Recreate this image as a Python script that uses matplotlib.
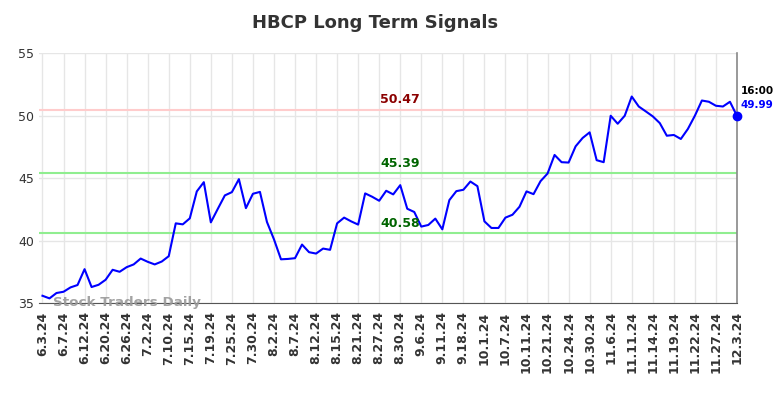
import matplotlib
matplotlib.use("Agg")
import matplotlib.pyplot as plt

prices = [35.58, 35.37, 35.8, 35.9, 36.25, 36.44, 37.71, 36.28, 36.46, 36.86,
          37.66, 37.5, 37.87, 38.09, 38.56, 38.3, 38.09, 38.32, 38.75, 41.38,
          41.3, 41.78, 43.94, 44.68, 41.46, 42.55, 43.62, 43.88, 44.92, 42.6,
          43.75, 43.9, 41.49, 40.1, 38.5, 38.53, 38.59, 39.68, 39.07, 38.96,
          39.36, 39.26, 41.38, 41.84, 41.54, 41.28, 43.78, 43.51, 43.19, 43.99,
          43.7, 44.44, 42.55, 42.29, 41.12, 41.25, 41.76, 40.9, 43.24, 43.96,
          44.07, 44.73, 44.36, 41.54, 41.01, 41.01, 41.84, 42.07, 42.71, 43.94,
          43.72, 44.76, 45.37, 46.86, 46.28, 46.25, 47.55, 48.22, 48.67, 46.44,
          46.28, 50.0, 49.36, 50.0, 51.54, 50.74, 50.35, 49.95, 49.41, 48.4,
          48.46, 48.14, 48.94, 50.0, 51.22, 51.12, 50.8, 50.74, 51.12, 49.99]

tick_labels = ["6.3.24", "6.7.24", "6.12.24", "6.20.24", "6.26.24", "7.2.24",
               "7.10.24", "7.15.24", "7.19.24", "7.25.24", "7.30.24", "8.2.24",
               "8.7.24", "8.12.24", "8.15.24", "8.21.24", "8.27.24", "8.30.24",
               "9.6.24", "9.11.24", "9.18.24", "10.1.24", "10.7.24", "10.11.24",
               "10.21.24", "10.24.24", "10.30.24", "11.6.24", "11.11.24",
               "11.14.24", "11.19.24", "11.22.24", "11.27.24", "12.3.24"]

resistance = 50.47
supports = [45.39, 40.58]
last_time = "16:00"

fig = plt.figure(figsize=(7.84, 3.98), dpi=100)
ax = fig.add_axes([0.0497, 0.2387, 0.8903, 0.6273])

x = list(range(len(prices)))
ax.plot(x, prices, color="blue", lw=1.5, zorder=3)
ax.plot(x[-1], prices[-1], "o", color="blue", ms=6, zorder=4, clip_on=False)

ax.axhline(resistance, color="#ffcccc", lw=1.5, zorder=2)
for s in supports:
    ax.axhline(s, color="#90ee90", lw=1.5, zorder=2)

ax.text(51, resistance + 0.3, "%.2f" % resistance, color="#8b0000",
        fontsize=9, fontweight="bold", ha="center", va="bottom")
for s in supports:
    ax.text(51, s + 0.3, "%.2f" % s, color="#006400",
            fontsize=9, fontweight="bold", ha="center", va="bottom")

ax.text(x[-1] + 0.5, prices[-1] + 1.6, last_time, fontsize=7.5,
        fontweight="bold", color="black", ha="left", va="bottom")
ax.text(x[-1] + 0.5, prices[-1] + 0.5, "%.2f" % prices[-1], fontsize=7.5,
        fontweight="bold", color="blue", ha="left", va="bottom")

ax.text(1.5, 35.0, "Stock Traders Daily", fontsize=9.7, fontweight="bold",
        color="#999999", alpha=0.9, ha="left", va="center", zorder=5)

ax.set_xlim(-0.5, x[-1])
ax.set_ylim(35, 55)
ax.set_yticks([35, 40, 45, 50, 55])
ax.set_xticks(x[::3])
ax.set_xticklabels(tick_labels, rotation=90, fontsize=9, fontweight="bold")
ax.tick_params(axis="both", length=0, labelsize=9, colors="#333333")
ax.tick_params(axis="x", pad=6)

ax.grid(True, color="#e6e6e6", lw=1)
ax.set_axisbelow(True)
for side in ["top", "left"]:
    ax.spines[side].set_visible(False)
ax.spines["bottom"].set_color("#555555")
ax.spines["right"].set_color("#888888")
ax.spines["right"].set_linewidth(1.2)

fig.suptitle("HBCP Long Term Signals", x=0.478, y=0.965, fontsize=13,
             fontweight="bold", color="#333333")

fig.savefig("out.png", dpi=100)
